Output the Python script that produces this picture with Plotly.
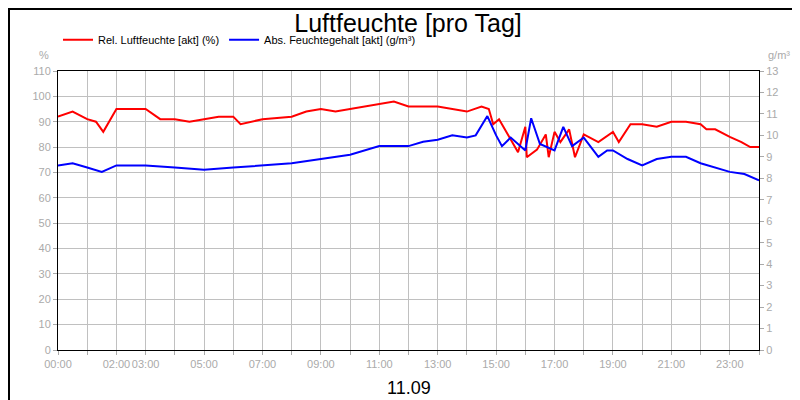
import plotly.graph_objects as go

# Stunden (0..24) und Werte
rel_h = [0, 0.5, 1, 1.3, 1.55, 2, 3, 3.5, 4, 4.5, 5, 5.5, 6, 6.25, 7, 8, 8.5, 9, 9.5, 10, 10.5,
         11, 11.5, 12, 13, 14, 14.5, 14.75, 14.9, 15.1, 15.45, 15.75, 16, 16.05, 16.4, 16.7, 16.8,
         17, 17.2, 17.5, 17.7, 18, 18.5, 19, 19.2, 19.6, 20, 20.5, 21, 21.5, 22, 22.2, 22.5, 23,
         23.4, 23.7, 24]
rel_val = [92, 94, 91, 90, 86, 95, 95, 91, 91, 90, 91, 92, 92, 89, 91, 92, 94, 95, 94, 95, 96,
           97, 98, 96, 96, 94, 96, 95, 89, 91, 84, 78, 88, 76, 79, 85, 76, 86, 82, 87, 76, 85, 82,
           86, 82, 89, 89, 88, 90, 90, 89, 87, 87, 84, 82, 80, 80]

abs_h = [0, 0.5, 1, 1.5, 2, 3, 4, 5, 6, 7, 8, 9, 10, 11, 12, 12.5, 13, 13.5, 14, 14.3, 14.7, 15,
         15.2, 15.5, 16, 16.2, 16.5, 17, 17.3, 17.6, 18, 18.5, 18.8, 19, 19.5, 20, 20.5, 21, 21.5,
         22, 22.5, 23, 23.5, 24]
abs_val = [8.6, 8.7, 8.5, 8.3, 8.6, 8.6, 8.5, 8.4, 8.5, 8.6, 8.7, 8.9, 9.1, 9.5, 9.5, 9.7, 9.8,
           10.0, 9.9, 10.0, 10.9, 10.0, 9.5, 9.9, 9.3, 10.8, 9.6, 9.3, 10.4, 9.5, 9.9, 9.0, 9.3,
           9.3, 8.9, 8.6, 8.9, 9.0, 9.0, 8.7, 8.5, 8.3, 8.2, 7.9]

tick_hours = [0, 2, 3, 5, 7, 9, 11, 13, 15, 17, 19, 21, 23]
tick_text = ['%02d:00' % h for h in tick_hours]

fig = go.Figure()
fig.add_trace(go.Scatter(x=rel_h, y=rel_val, mode='lines', name='Rel. Luftfeuchte [akt] (%)',
                         line=dict(color='#ff0000', width=2)))
fig.add_trace(go.Scatter(x=abs_h, y=abs_val, mode='lines', name='Abs. Feuchtegehalt [akt] (g/m³)',
                         line=dict(color='#0000ff', width=2), yaxis='y2'))

grey = '#aaaaaa'
fig.update_layout(
    width=800, height=400, paper_bgcolor='white', plot_bgcolor='white',
    margin=dict(l=50, r=49, t=63, b=58, autoexpand=False),
    font=dict(family='Liberation Sans, Arial', size=11, color=grey),
    title=dict(text='Luftfeuchte [pro Tag]', x=0.5, xanchor='center', y=0.985, yanchor='top',
               automargin=False, font=dict(size=25, color='black')),
    showlegend=True,
    legend=dict(orientation='h', x=0.0, y=1.06, xanchor='left', yanchor='bottom',
                font=dict(size=11, color='black'), itemwidth=30, bgcolor='rgba(0,0,0,0)'),
    xaxis=dict(range=[0, 24], tickvals=tick_hours, ticktext=tick_text, showgrid=False,
               tickangle=0, automargin=False,
               minor=dict(dtick=1, showgrid=True, gridcolor='#c0c0c0', ticks='outside',
                          ticklen=4, tickcolor=grey),
               ticks='outside', ticklen=4, tickcolor=grey,
               showline=True, linecolor='black', mirror=True, zeroline=False,
               tickfont=dict(color=grey, size=11)),
    yaxis=dict(range=[0, 110], dtick=10, gridcolor='#c0c0c0', ticks='outside', ticklen=4,
               automargin=False, tickcolor=grey, showline=True, linecolor='black',
               mirror=True, zeroline=False),
    yaxis2=dict(range=[0, 13], dtick=1, overlaying='y', side='right', showgrid=False,
                automargin=False, ticks='outside', ticklen=4, tickcolor=grey, zeroline=False),
)
fig.add_annotation(text='%', xref='paper', yref='paper', x=-0.01, y=1.03, xanchor='right',
                   yanchor='bottom', showarrow=False, font=dict(size=11, color=grey))
fig.add_annotation(text='g/m³', xref='paper', yref='paper', x=1.01, y=1.03, xanchor='left',
                   yanchor='bottom', showarrow=False, font=dict(size=11, color=grey))
fig.add_annotation(text='11.09', xref='paper', yref='paper', x=0.5, y=-0.135, yanchor='middle',
                   showarrow=False, font=dict(size=18, color='black'))
# Rahmen ueber das ganze Bild
fig.add_shape(type='rect', xref='paper', yref='paper', x0=-49/701, x1=1+48/701,
              y0=-57/279, y1=1+62/279, line=dict(color='black', width=2))

fig.write_html('out.html')
